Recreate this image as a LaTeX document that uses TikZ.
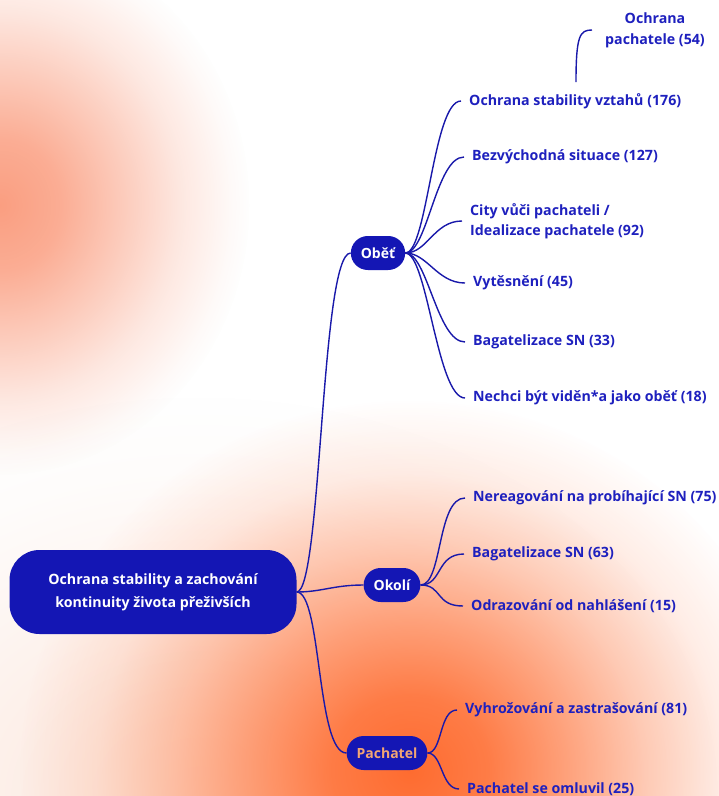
\documentclass[tikz,border=0pt]{standalone}
\usepackage{fontspec}
\setmainfont{Open Sans}
\usetikzlibrary{fadings}
\definecolor{nodeblue}{RGB}{20,22,180}
\definecolor{txtblue}{RGB}{30,32,190}
\definecolor{lineblue}{RGB}{25,25,170}
\definecolor{orA}{RGB}{255,108,48}
\definecolor{orB}{RGB}{250,150,118}
\definecolor{tint}{RGB}{252,232,222}
\definecolor{pachtxt}{RGB}{242,165,115}
\pgfdeclareradialshading{softfadeshade}{\pgfpointorigin}{color(0bp)=(white); color(5bp)=(white!88!black); color(10bp)=(white!62!black); color(15bp)=(white!35!black); color(20bp)=(white!12!black); color(25bp)=(black); color(50bp)=(black)}
\pgfdeclarefading{softout}{\pgfuseshading{softfadeshade}}
\pgfdeclareradialshading{widefadeshade}{\pgfpointorigin}{color(0bp)=(white!92!black); color(6bp)=(white!78!black); color(12bp)=(white!50!black); color(18bp)=(white!22!black); color(23bp)=(white!5!black); color(25bp)=(black); color(50bp)=(black)}
\pgfdeclarefading{wideout}{\pgfuseshading{widefadeshade}}
\tikzset{
  hub/.style={fill=nodeblue, rounded corners=17pt, minimum height=34pt, inner xsep=10pt,
    font=\fontsize{14}{17}\selectfont\bfseries, text=white},
  leaf/.style={anchor=west, inner xsep=8pt, inner ysep=2pt, align=left, text=txtblue,
    font=\fontsize{14.2}{20}\selectfont\bfseries},
  conn/.style={draw=lineblue, line width=1.4pt}
}
\begin{document}
\begin{tikzpicture}[x=1pt,y=-1pt]
\useasboundingbox (0,0) rectangle (719,796);
\fill[white] (0,0) rectangle (719,796);
\fill[tint, path fading=softout] (200,796) ellipse [x radius=520, y radius=400];
\fill[orB, path fading=wideout] (0,205) ellipse [x radius=250, y radius=270];
\fill[orA, path fading=softout] (410,770) ellipse [x radius=390, y radius=370];

% root
\node[fill=nodeblue, rounded corners=30pt, minimum width=287pt, minimum height=84pt,
  align=center, text=white, font=\fontsize{14.2}{23}\selectfont\bfseries] (root) at (153,592)
  {Ochrana stability a zachování\\kontinuity života přeživších};

% hubs
\node[hub] (obet) at (378,253) {Oběť};
\node[hub] (okoli) at (392,585) {Okolí};
\node[hub, text=pachtxt] (pach) at (387,753) {Pachatel};

% leaves Oběť
\node[leaf] (o1) at (461,101) {Ochrana stability vztahů (176)};
\node[leaf] (o2) at (464,157) {Bezvýchodná situace (127)};
\node[leaf] (o3) at (462,221) {City vůči pachateli /\\Idealizace pachatele (92)};
\node[leaf] (o4) at (465,283) {Vytěsnění (45)};
\node[leaf] (o5) at (465,342) {Bagatelizace SN (33)};
\node[leaf] (o6) at (465,398) {Nechci být viděn*a jako oběť (18)};
\node[text=txtblue, align=center, font=\fontsize{14.2}{21}\selectfont\bfseries] (op) at (655,30) {Ochrana\\pachatele (54)};
\coordinate (opstart) at (576,82);
\coordinate (opend) at (592,30);

% leaves Okolí
\node[leaf] (k1) at (465,498) {Nereagování na probíhající SN (75)};
\node[leaf] (k2) at (464,554) {Bagatelizace SN (63)};
\node[leaf] (k3) at (463,606) {Odrazování od nahlášení (15)};

% leaves Pachatel
\node[leaf] (p1) at (457,710) {Vyhrožování a zastrašování (81)};
\node[leaf] (p2) at (459,789) {Pachatel se omluvil (25)};

% connectors
\foreach \t in {obet,okoli,pach}
  \draw[conn] (root.east) .. controls +(25,0) and +(-30,0) .. (\t.west);
\foreach \t in {o1,o2,o3,o4,o5,o6}
  \draw[conn] (obet.east) .. controls +(22,0) and +(-28,0) .. (\t.west);
\foreach \t in {k1,k2,k3}
  \draw[conn] (okoli.east) .. controls +(22,0) and +(-28,0) .. (\t.west);
\foreach \t in {p1,p2}
  \draw[conn] (pach.east) .. controls +(15,0) and +(-18,0) .. (\t.west);
\draw[conn] (opstart) .. controls (576,35) and (580,30) .. (opend);
\end{tikzpicture}
\end{document}
